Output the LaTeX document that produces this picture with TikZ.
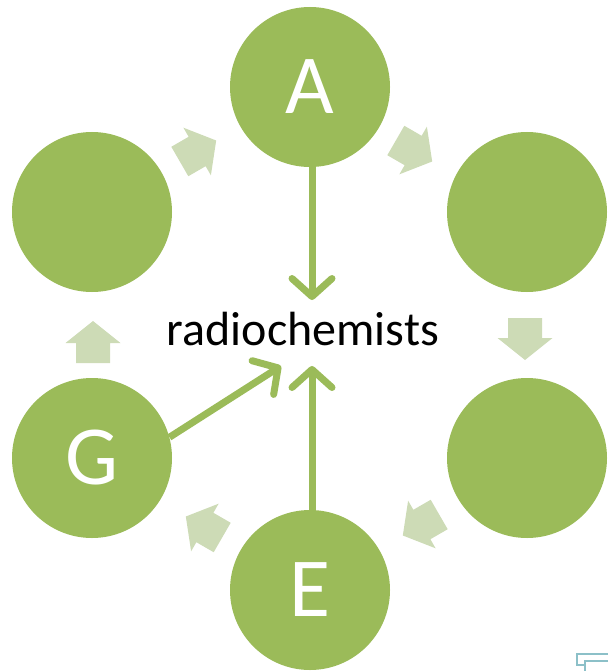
\documentclass[tikz,border=0pt]{standalone}
\usepackage{fontspec}
\setmainfont{Carlito}
\usetikzlibrary{arrows.meta}
\definecolor{olive}{HTML}{9BBB59}
\definecolor{lightolive}{HTML}{CDDBB6}
\definecolor{teal}{HTML}{8CC0C8}
\begin{document}
\begin{tikzpicture}[x=1pt,y=-1pt,
  circ/.style={circle,fill=olive,draw=none,minimum size=160pt,inner sep=0pt,text=white,font=\fontsize{84}{84}\selectfont},
  lbl/.style={font=\fontsize{48}{50}\selectfont,text=black,inner sep=0pt},
  conn/.style={draw=olive,line width=7pt,-{Straight Barb[length=18pt,width=40pt,line width=7pt,round]}},
  blockarrow/.pic={\fill[lightolive] (-21,-17) -- (-1,-17) -- (-1,-27.5) -- (21,0) -- (-1,27.5) -- (-1,17) -- (-21,17) -- cycle;}
]
\useasboundingbox (0,0) rectangle (608,671);
\node[circ] (A) at (310,87) {A};
\node[circ] (B) at (527,212) {};
\node[circ] (C) at (527,458) {};
\node[circ] (E) at (310,590) {E};
\node[circ] (G) at (92,458) {G};
\node[circ] (F) at (92,212) {};
\node[lbl] (R) at (303,329) {radiochemists};
% block arrows
\pic[rotate=30] at (198,151) {blockarrow};
\pic[rotate=-30] at (414,151) {blockarrow};
\pic[rotate=-90] at (525,339) {blockarrow};
\pic[rotate=-150] at (421,525) {blockarrow};
\pic[rotate=150] at (204,527) {blockarrow};
\pic[rotate=90] at (93,342) {blockarrow};
% connectors
\coordinate (tA) at (312,300);
\coordinate (tE) at (312,366);
\coordinate (tG) at (281,366);
\draw[conn] (A.south -| tA) -- (tA);
\draw[conn] (E.north -| tE) -- (tE);
\draw[conn] (G.15) -- (tG);
% corner artifact
\draw[teal,line width=1.2pt] (608,654) -- (577,654) -- (577,665) -- (585,665) -- (585,671);
\draw[teal,line width=1.2pt] (608,661) -- (585,661) -- (585,665);
\end{tikzpicture}
\end{document}
